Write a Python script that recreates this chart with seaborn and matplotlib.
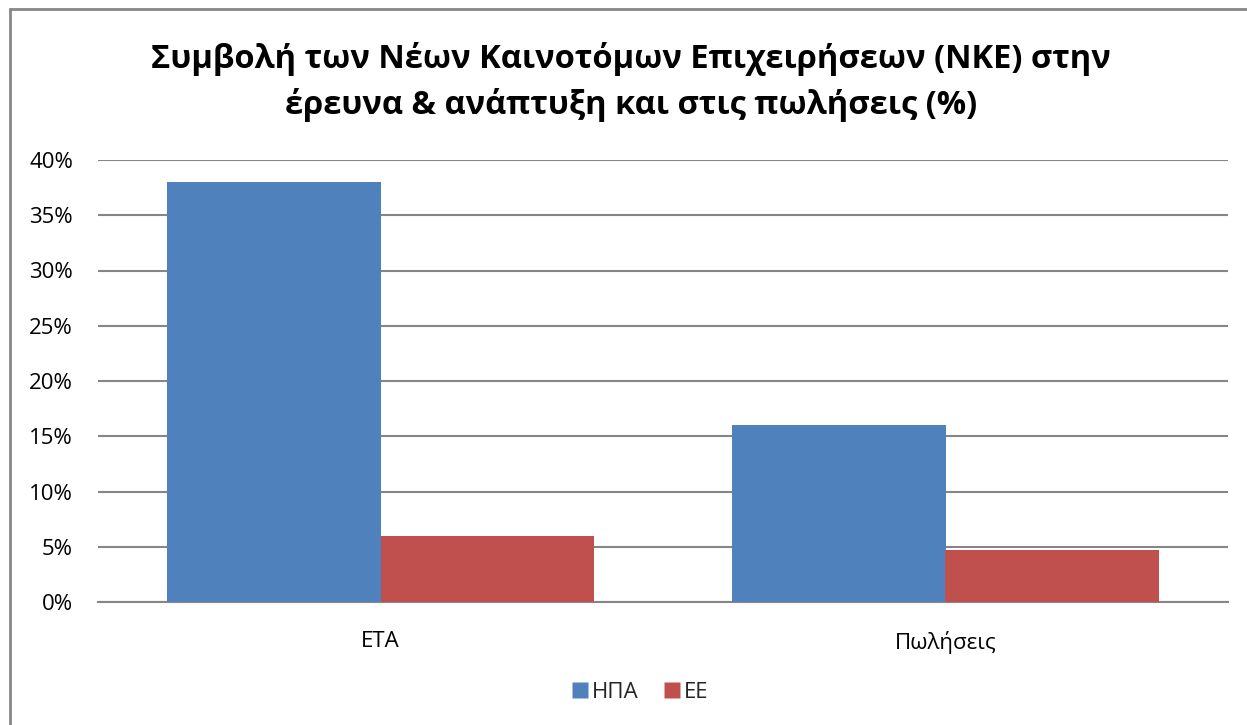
#!/usr/bin/env python3

import numpy as np
import pandas as pd
import matplotlib
matplotlib.use("Agg")
import matplotlib.pyplot as plt
from matplotlib.lines import Line2D
from matplotlib.ticker import PercentFormatter
import seaborn as sns

categories = ["ΕΤΑ", "Πωλήσεις"]
regions = ["ΗΠΑ", "ΕΕ"]
usa = [38, 16]
eu = [6, 4.7]
colors = {"ΗΠΑ": "#4F81BD", "ΕΕ": "#C0504D"}

df = pd.DataFrame({
    "category": categories * 2,
    "region": [regions[0]] * len(categories) + [regions[1]] * len(categories),
    "value": usa + eu,
})

sns.set_style("white")
plt.rcParams["font.family"] = ["Open Sans", "DejaVu Sans"]

fig = plt.figure(figsize=(12.47, 7.25), dpi=100)
ax = fig.add_axes([98 / 1247, 1 - 602 / 725, (1228 - 98) / 1247, (602 - 160) / 725])

sns.barplot(data=df, x="category", y="value", hue="region",
            palette=colors, width=0.754, gap=0, saturation=1,
            edgecolor="none", linewidth=0, legend=False, ax=ax, zorder=3)

ax.set_ylim(0, 40)
ax.set_yticks(np.arange(0, 41, 5))
ax.yaxis.set_major_formatter(PercentFormatter(decimals=0))
ax.set_xlim(-0.5, 1.5)
ax.grid(axis="y", color="#868686", lw=1.5, zorder=0)
ax.set_xlabel("")
ax.set_ylabel("")
for s in ["top", "right", "left"]:
    ax.spines[s].set_visible(False)
ax.spines["bottom"].set_color("#868686")
ax.spines["bottom"].set_linewidth(1.5)
ax.tick_params(axis="both", length=0, labelsize=16, colors="black")
ax.tick_params(axis="y", pad=18)
ax.tick_params(axis="x", pad=21)

fig.text(0.506, 1 - 82 / 725, "Συμβολή των Νέων Καινοτόμων Επιχειρήσεων (ΝΚΕ) στην\n"
         "έρευνα & ανάπτυξη και στις πωλήσεις (%)",
         ha="center", va="center", fontsize=23.5, fontweight="bold",
         color="black", linespacing=1.45)

handles = [Line2D([], [], marker="s", ls="none", markersize=11,
                  markerfacecolor=colors[r], markeredgecolor="none") for r in regions]
fig.legend(handles, regions, loc="center", bbox_to_anchor=(0.512, 1 - 692 / 725),
           ncol=2, frameon=False, fontsize=16, handletextpad=0.05,
           columnspacing=1.0, handlelength=1)

# chart area border (left and top edges visible)
fig.add_artist(Line2D([10 / 1247, 10 / 1247], [0, 1 - 9 / 725],
                      transform=fig.transFigure, color="#868686", lw=2))
fig.add_artist(Line2D([10 / 1247, 1], [1 - 9 / 725, 1 - 9 / 725],
                      transform=fig.transFigure, color="#868686", lw=2))

fig.savefig("out.png", dpi=100)
